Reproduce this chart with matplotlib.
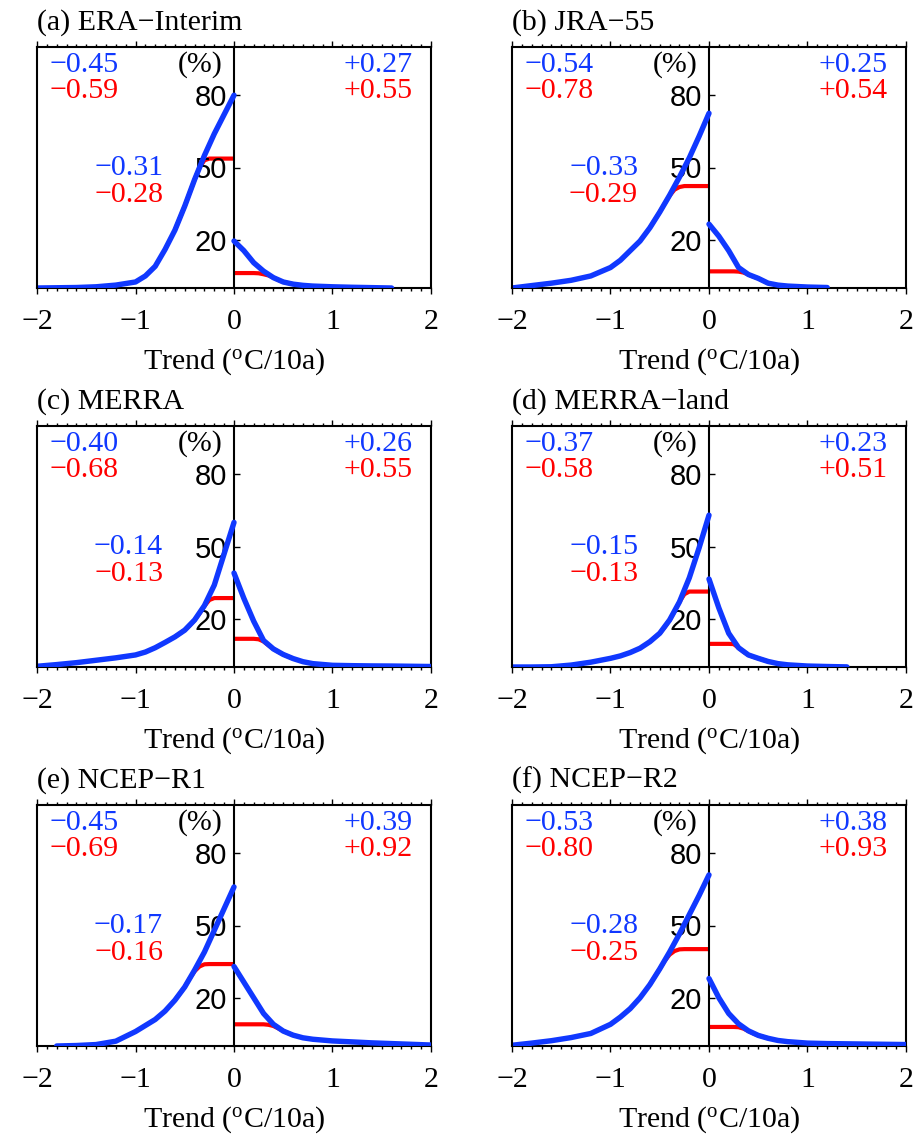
import numpy as np
import matplotlib.pyplot as plt
from matplotlib.ticker import MultipleLocator

plt.rcParams['font.family'] = ['Liberation Serif', 'DejaVu Serif']
plt.rcParams['mathtext.fontset'] = 'custom'
plt.rcParams['mathtext.rm'] = 'Liberation Serif'
plt.rcParams['mathtext.it'] = 'Liberation Serif:italic'

BLUE = '#1038ff'
RED = '#ff0000'

titles = ['(a) ERA\u2212Interim', '(b) JRA\u221255', '(c) MERRA',
          '(d) MERRA\u2212land', '(e) NCEP\u2212R1', '(f) NCEP\u2212R2']

# numbers written in each panel (blue / red)
neg_blue = ['\u22120.45', '\u22120.54', '\u22120.40', '\u22120.37', '\u22120.45', '\u22120.53']
neg_red = ['\u22120.59', '\u22120.78', '\u22120.68', '\u22120.58', '\u22120.69', '\u22120.80']
pos_blue = ['+0.27', '+0.25', '+0.26', '+0.23', '+0.39', '+0.38']
pos_red = ['+0.55', '+0.54', '+0.55', '+0.51', '+0.92', '+0.93']
mid_blue = ['\u22120.31', '\u22120.33', '\u22120.14', '\u22120.15', '\u22120.17', '\u22120.28']
mid_red = ['\u22120.28', '\u22120.29', '\u22120.13', '\u22120.13', '\u22120.16', '\u22120.25']

# blue curves (%), negative and positive trends
x_neg = [-2.0, -1.8, -1.6, -1.4, -1.2, -1.0, -0.9, -0.8, -0.7, -0.6, -0.5, -0.4, -0.3, -0.2, -0.1, 0.0]
x_pos = [0.0, 0.1, 0.2, 0.3, 0.4, 0.5, 0.6, 0.7, 0.8, 1.0, 1.2, 1.4, 1.6, 1.8, 2.0]
nan = np.nan

blue_neg_a = [0, 0.1, 0.2, 0.5, 1.2, 2.5, 5, 9, 16, 24, 34, 45, 55, 64, 72, 80]
blue_neg_b = [0, 1, 2, 3.2, 5, 8.5, 11.5, 15.5, 19.5, 25, 31.5, 38.5, 46, 54, 63, 72.5]
blue_neg_c = [0.3, 1.0, 1.8, 2.8, 3.8, 5, 6.2, 8, 10.2, 12.5, 15.3, 19.5, 25.5, 34, 47, 60]
blue_neg_d = [0, 0, 0.1, 0.8, 2, 3.6, 4.6, 6, 7.8, 10.5, 14, 19.5, 27, 37, 49.5, 63]
blue_neg_e = [nan, 0, 0.2, 0.6, 2, 6, 8.5, 11, 14.5, 19, 24.5, 31.5, 39, 48, 57, 66]
blue_neg_f = [0.3, 1.2, 2.2, 3.5, 5.2, 9, 12, 15.5, 20, 25.5, 32, 39, 46.5, 54.5, 62.5, 71]

blue_pos_a = [19.5, 15.5, 10.5, 7, 4.3, 2.5, 1.6, 1.1, 0.8, 0.5, 0.3, 0.15, 0, nan, nan]
blue_pos_b = [26.5, 21.5, 15.5, 8.5, 5.6, 4, 2.0, 1.2, 0.8, 0.4, 0.2, nan, nan, nan, nan]
blue_pos_c = [39, 28.5, 19, 11, 7.5, 5.2, 3.5, 2.2, 1.4, 0.7, 0.55, 0.45, 0.4, 0.3, 0.2]
blue_pos_d = [36.5, 24.5, 14, 8, 5, 3.6, 2.3, 1.4, 0.9, 0.4, 0.2, 0.05, nan, nan, nan]
blue_pos_e = [33, 26.5, 20, 13.5, 9, 6.2, 4.5, 3.4, 2.8, 2.1, 1.7, 1.3, 1.0, 0.7, 0.4]
blue_pos_f = [28, 20, 13.5, 9.2, 6.3, 4.4, 3.2, 2.3, 1.8, 1.2, 1.0, 0.9, 0.8, 0.7, 0.6]

# red curves near zero (further out they lie under the blue ones)
xr_neg = [-0.6, -0.5, -0.45, -0.4, -0.35, -0.3, -0.25, -0.2, -0.1, 0.0]
xr_pos = [0.0, 0.1, 0.2, 0.25, 0.3, 0.35, 0.4, 0.45, 0.5, 0.6]

red_neg_a = [24, 34, 39.5, 45, 50, 53, 53.7, 53.7, 53.7, 53.7]
red_neg_b = [25, 31.5, 35, 38.3, 40.8, 41.9, 42.3, 42.3, 42.3, 42.3]
red_neg_c = [12.5, 15.3, 17.2, 19.5, 22.2, 25.3, 27.8, 28.6, 28.6, 28.6]
red_neg_d = [10.5, 14, 16.5, 19.5, 23, 27, 30.2, 31.3, 31.3, 31.3]
red_neg_e = [19, 24.5, 28, 31, 33, 33.9, 34, 34, 34, 34]
red_neg_f = [25.5, 32, 35.3, 37.9, 39.4, 40.1, 40.2, 40.2, 40.2, 40.2]

red_pos_a = [6.2, 6.2, 6.2, 6.1, 5.7, 5.2, 4.3, 3.3, 2.5, 1.6]
red_pos_b = [6.9, 6.9, 6.9, 6.9, 6.8, 6.4, 5.6, 4.7, 4.0, 2.0]
red_pos_c = [11.7, 11.7, 11.7, 11.5, 10.6, 9.0, 7.5, 6.3, 5.2, 3.5]
red_pos_d = [9.6, 9.6, 9.6, 9.5, 8.0, 6.3, 5.0, 4.2, 3.6, 2.3]
red_pos_e = [9, 9, 9, 9, 9, 8.8, 8.3, 7.3, 6.2, 4.5]
red_pos_f = [7.9, 7.9, 7.9, 7.9, 7.8, 7.2, 6.2, 5.2, 4.4, 3.2]

blue_neg = [blue_neg_a, blue_neg_b, blue_neg_c, blue_neg_d, blue_neg_e, blue_neg_f]
blue_pos = [blue_pos_a, blue_pos_b, blue_pos_c, blue_pos_d, blue_pos_e, blue_pos_f]
red_neg = [red_neg_a, red_neg_b, red_neg_c, red_neg_d, red_neg_e, red_neg_f]
red_pos = [red_pos_a, red_pos_b, red_pos_c, red_pos_d, red_pos_e, red_pos_f]

fig = plt.figure(figsize=(9.2, 11.37), dpi=100)
W, H = 920, 1137
lefts = [37, 512]
bottoms = [288, 667, 1046]
pw, ph = 394, 241

fs = 21.5
for i in range(6):
    r, c = divmod(i, 2)
    ax = fig.add_axes([lefts[c] / W, (H - bottoms[r]) / H, pw / W, ph / H])
    ax.set_xlim(-2, 2)
    ax.set_ylim(0, 100)

    ax.plot(xr_neg, red_neg[i], color=RED, lw=3, solid_capstyle='butt', zorder=2)
    ax.plot(xr_pos, red_pos[i], color=RED, lw=3, solid_capstyle='butt', zorder=2)
    ax.plot(x_neg, blue_neg[i], color=BLUE, lw=3.9, solid_capstyle='round',
            solid_joinstyle='round', zorder=3)
    ax.plot(x_pos, blue_pos[i], color=BLUE, lw=3.9, solid_capstyle='round',
            solid_joinstyle='round', zorder=3)

    # frame, with the y axis at zero trend
    for s in ax.spines.values():
        s.set_linewidth(1.5)
    ax.spines['left'].set_position(('data', 0))
    ax.plot([0, 0], [0, 1], transform=ax.transAxes, color='black', lw=1.5,
            clip_on=False, zorder=5)
    ax.set_axisbelow(False)

    ax.xaxis.set_major_locator(MultipleLocator(1))
    ax.xaxis.set_minor_locator(MultipleLocator(0.1))
    ax.tick_params(axis='x', which='both', direction='out', top=True, bottom=True,
                   labeltop=False, width=1, labelsize=fs, pad=11)
    ax.tick_params(axis='x', which='major', length=4)
    ax.tick_params(axis='x', which='minor', length=2)

    ax.set_yticks([20, 50, 80])
    ax.tick_params(axis='y', direction='in', length=4, width=1, pad=5)
    for lab in ax.get_yticklabels():
        lab.set_fontfamily('Liberation Sans')
        lab.set_fontsize(21)

    ax.set_xlabel('Trend ($^{\\rm o}$C/10a)', fontsize=fs, labelpad=8)

    ax.text(0, 1.07, titles[i], transform=ax.transAxes, ha='left', va='baseline',
            fontsize=fs)
    ax.text(-1.87, 89.7, neg_blue[i], color=BLUE, ha='left', va='baseline', fontsize=fs)
    ax.text(-1.87, 78.9, neg_red[i], color=RED, ha='left', va='baseline', fontsize=fs)
    ax.text(-0.12, 89.7, '(%)', color='black', ha='right', va='baseline', fontsize=fs)
    ax.text(1.81, 89.7, pos_blue[i], color=BLUE, ha='right', va='baseline', fontsize=fs)
    ax.text(1.81, 78.9, pos_red[i], color=RED, ha='right', va='baseline', fontsize=fs)
    ax.text(-0.72, 46.7, mid_blue[i], color=BLUE, ha='right', va='baseline', fontsize=fs)
    ax.text(-0.72, 35.5, mid_red[i], color=RED, ha='right', va='baseline', fontsize=fs)

fig.savefig('out.png', dpi=100)
